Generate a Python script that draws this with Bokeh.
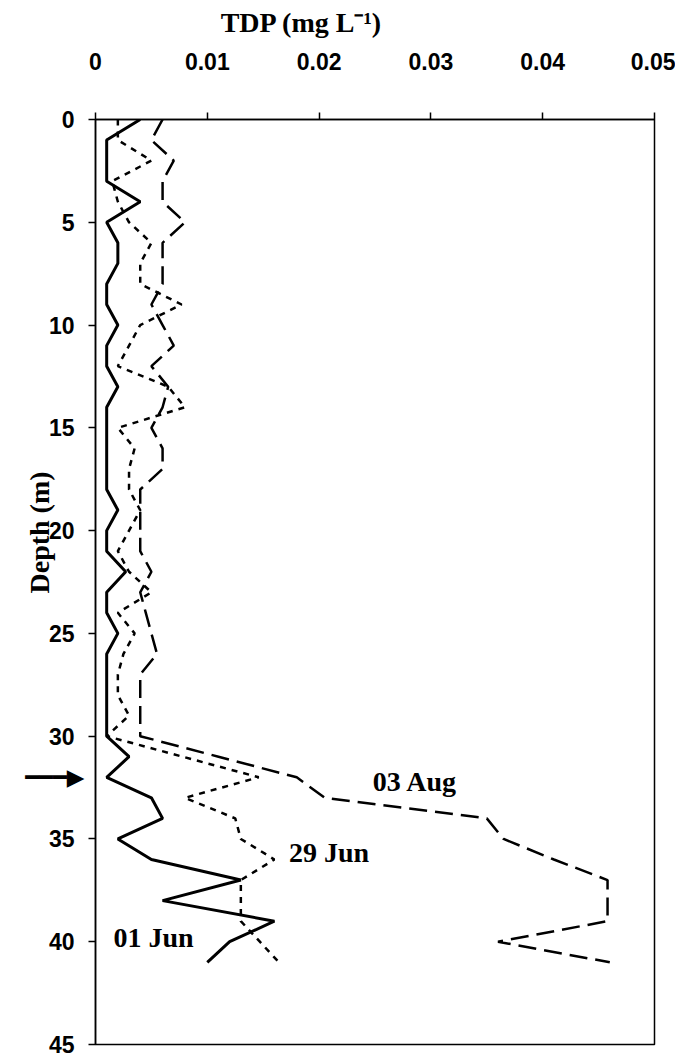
from bokeh.plotting import figure
from bokeh.models import Range1d, CustomJSTickFormatter, Label, Title, LinearAxis, FixedTicker
from bokeh.embed import file_html
from bokeh.resources import INLINE

# ---------------- data ----------------
depth = list(range(0, 42))  # m

tdp_01jun = [0.004, 0.001, 0.001, 0.001, 0.004, 0.001, 0.002, 0.002, 0.001, 0.001,
             0.002, 0.001, 0.001, 0.002, 0.001, 0.001, 0.001, 0.001, 0.001, 0.002,
             0.001, 0.001, 0.0027, 0.001, 0.001, 0.002, 0.001, 0.001, 0.001, 0.001,
             0.001, 0.003, 0.001, 0.005, 0.006, 0.002, 0.005, 0.013, 0.006, 0.016,
             0.012, 0.010]

tdp_29jun = [0.002, 0.002, 0.005, 0.0015, 0.002, 0.003, 0.005, 0.004, 0.004, 0.0077,
             0.004, 0.003, 0.002, 0.0065, 0.008, 0.002, 0.0035, 0.003, 0.003, 0.004,
             0.003, 0.002, 0.003, 0.005, 0.002, 0.0035, 0.0025, 0.002, 0.002, 0.003,
             0.001, 0.0078, 0.0146, 0.008, 0.0125, 0.013, 0.016, 0.013, 0.013, 0.013,
             0.0147, 0.0164]

tdp_03aug = [0.006, 0.005, 0.007, 0.006, 0.006, 0.008, 0.006, 0.006, 0.006, 0.005,
             0.006, 0.007, 0.005, 0.0065, 0.006, 0.005, 0.006, 0.006, 0.004, 0.004,
             0.004, 0.004, 0.005, 0.004, 0.0045, 0.005, 0.0055, 0.004, 0.004, 0.004,
             0.004, 0.011, 0.018, 0.0205, 0.035, 0.0365, 0.041, 0.0458, 0.0458, 0.0458,
             0.036, 0.046]

series_names = ["01 Jun", "29 Jun", "03 Aug"]
x_ticks = [0, 0.01, 0.02, 0.03, 0.04, 0.05]
y_ticks = [0, 5, 10, 15, 20, 25, 30, 35, 40, 45]
arrow_depth = 32
x_title = "TDP (mg L\u207b\u00b9)"
y_title = "Depth (m)"

# ---------------- figure ----------------
p = figure(width=675, height=1057,
           x_range=Range1d(0, 0.05), y_range=Range1d(45, 0),
           x_axis_location="above",
           output_backend="svg", toolbar_location=None,
           min_border_left=95, min_border_top=119,
           min_border_right=21, min_border_bottom=13)

p.background_fill_color = "white"
p.border_fill_color = "white"
p.outline_line_color = "black"
p.outline_line_width = 1.5
p.grid.visible = False

sans = "Liberation Sans"
serif = "Liberation Serif"

for ax in (p.xaxis[0], p.yaxis[0]):
    ax.axis_line_width = 1.5
    ax.major_tick_line_width = 1.5
    ax.major_tick_out = 7
    ax.major_tick_in = 0
    ax.minor_tick_line_color = None
    ax.major_label_text_font = sans
    ax.major_label_text_font_style = "bold"
    ax.major_label_text_font_size = "23px"
    ax.major_label_text_color = "black"

p.xaxis.ticker = x_ticks
p.yaxis.ticker = y_ticks
p.xaxis.formatter = CustomJSTickFormatter(code="return tick == 0 ? '0' : tick.toFixed(2);")
p.xaxis.major_label_standoff = 43
p.yaxis.major_label_standoff = 14

# x title, written as the single label of a tick-less axis above the TDP axis
title_tdp = 0.01844   # TDP value under the centre of the title
title_axis = LinearAxis(ticker=FixedTicker(ticks=[title_tdp]),
                        formatter=CustomJSTickFormatter(args=dict(t=x_title), code="return t;"),
                        axis_line_color=None, major_tick_line_color=None,
                        minor_tick_line_color=None, major_tick_out=0, major_tick_in=0,
                        major_label_standoff=12,
                        major_label_text_font=serif, major_label_text_font_style="bold",
                        major_label_text_font_size="28px", major_label_text_color="black")
p.add_layout(title_axis, "above")

# marker arrow at the sampling depth, drawn as the label of a tick-less axis
arrow_axis = LinearAxis(ticker=FixedTicker(ticks=[arrow_depth]),
                        major_label_overrides={arrow_depth: "\u2501\u2501\u2501\u25B6"},
                        axis_line_color=None, major_tick_line_color=None,
                        minor_tick_line_color=None, major_tick_out=0, major_tick_in=0,
                        major_label_standoff=-39,
                        major_label_text_font="DejaVu Sans",
                        major_label_text_font_size="23px",
                        major_label_text_color="black")
p.add_layout(arrow_axis, "left")

# y title
p.add_layout(Title(text=y_title, align="left", offset=451, text_font=serif,
                   text_font_style="bold", text_font_size="28px",
                   text_color="black", standoff=-65), "left")

# ---------------- lines ----------------
p.line(tdp_01jun, depth, line_color="black", line_width=3)
p.line(tdp_29jun, depth, line_color="black", line_width=2.5, line_dash="6 6")
p.line(tdp_03aug, depth, line_color="black", line_width=2.5, line_dash="18 8")

# ---------------- series labels ----------------
label_pos = {"01 Jun": (0.0016, 39.8), "29 Jun": (0.0173, 35.65), "03 Aug": (0.0248, 32.2)}
for name in series_names:
    lx, ly = label_pos[name]
    p.add_layout(Label(x=lx, y=ly, text=name, text_font=serif, text_font_style="bold",
                       text_font_size="28px", text_color="black",
                       text_align="left", text_baseline="middle"))

open("out.html", "w").write(file_html(p, INLINE))
